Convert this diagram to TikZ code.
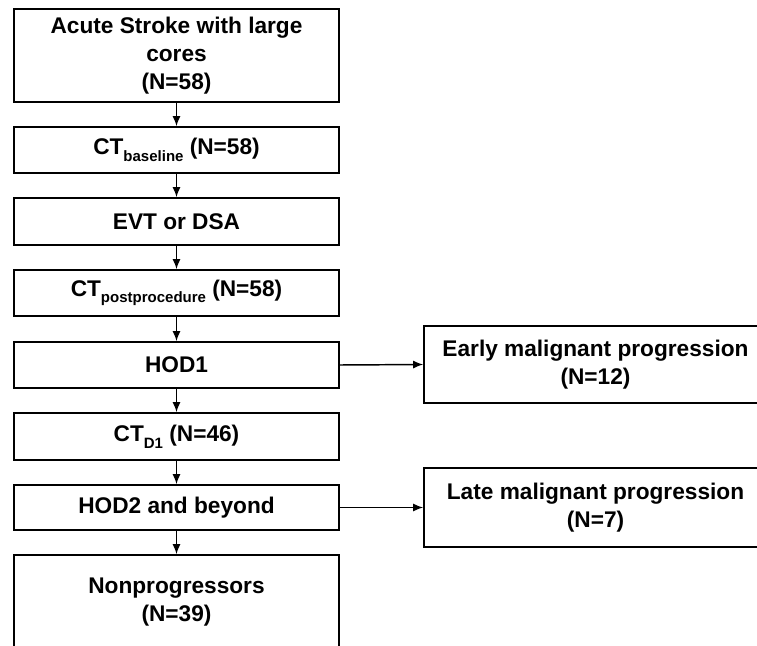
\documentclass[tikz,border=0pt]{standalone}
\usepackage{fontspec}
\setmainfont{Liberation Sans}
\usetikzlibrary{arrows.meta}
\newcommand{\subtxt}[1]{\raisebox{-5pt}{\fontsize{11.25}{12}\selectfont #1}}
\begin{document}
\begin{tikzpicture}[x=0.75pt,y=-0.75pt,
  box/.style={draw, line width=1.2pt, rectangle, inner sep=0pt, align=center,
    font=\fontsize{17}{21}\selectfont\bfseries},
  lbox/.style={box, minimum width=243.75pt},
  rbox/.style={box, minimum width=257.25pt},
  arr/.style={line width=1.1pt, -{Latex[length=7.5pt,width=6pt]}}]
\useasboundingbox (0,0) rectangle (757,646);
\clip (0,0) rectangle (757,646);
\node[lbox, minimum height=69.75pt] (b1) at (176.5,55.5) {Acute Stroke with large\\cores\\(N=58)};
\node[lbox, minimum height=34.5pt] (b2) at (176.5,150) {CT\subtxt{baseline} (N=58)};
\node[lbox, minimum height=35.25pt] (b3) at (176.5,221.5) {EVT or DSA};
\node[lbox, minimum height=34.5pt] (b4) at (176.5,293) {CT\subtxt{postprocedure} (N=58)};
\node[lbox, minimum height=34.5pt] (b5) at (176.5,365) {HOD1};
\node[lbox, minimum height=35.25pt] (b6) at (176.5,436.5) {CT\subtxt{D1} (N=46)};
\node[lbox, minimum height=33.75pt] (b7) at (176.5,507.5) {HOD2 and beyond};
\node[lbox, minimum height=71.25pt] (b8) at (176.5,602.5) {Nonprogressors\\(N=39)};
\node[rbox, minimum height=57.75pt] (early) at (595.5,364.5) {Early malignant progression\\(N=12)};
\node[rbox, minimum height=59.25pt] (late) at (595.5,507.5) {Late malignant progression\\(N=7)};
\draw[arr] (b1) -- (b2);
\draw[arr] (b2) -- (b3);
\draw[arr] (b3) -- (b4);
\draw[arr] (b4) -- (b5);
\draw[arr] (b5) -- (b6);
\draw[arr] (b6) -- (b7);
\draw[arr] (b7) -- (b8);
\draw[arr] (b5.east) -- (early.west);
\draw[arr] (b7.east) -- (late.west);
\end{tikzpicture}
\end{document}
